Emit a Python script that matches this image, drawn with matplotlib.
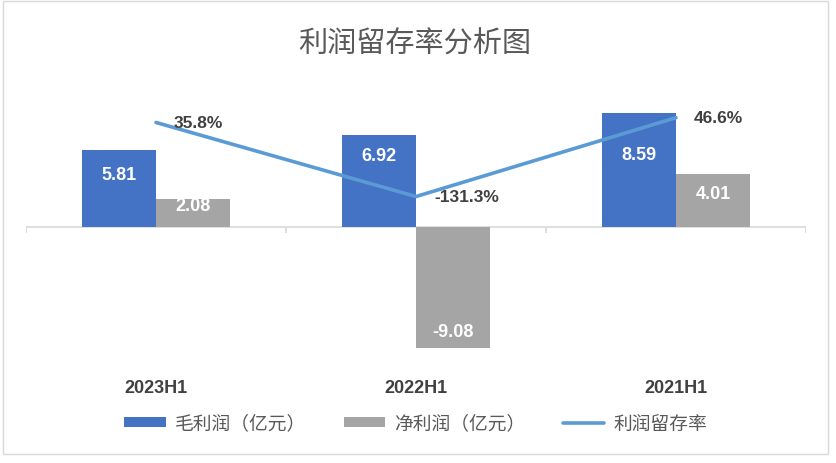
import matplotlib.pyplot as plt
from matplotlib.patches import Rectangle

plt.rcParams['font.family'] = ['Noto Sans CJK SC', 'DejaVu Sans']

categories = ["2023H1", "2022H1", "2021H1"]
gross = [5.81, 6.92, 8.59]
net = [2.08, -9.08, 4.01]
retention = [35.8, -131.3, 46.6]

blue = "#4472C4"
grey = "#A5A5A5"
lineBlue = "#5B9BD5"
textGrey = "#595959"
darkText = "#404040"
numFont = ['Liberation Sans', 'DejaVu Sans']

fig = plt.figure(figsize=(8.36, 4.64), dpi=100)
ax = fig.add_axes([26/836, 1-361/464, 780/836, 266/464])
ax2 = ax.twinx()

x = list(range(len(categories)))
w = 0.285
b1 = ax.bar([i - w/2 for i in x], gross, width=w, color=blue, zorder=2)
b2 = ax.bar([i + w/2 for i in x], net, width=w, color=grey, zorder=2)

ax.set_xlim(-0.5, 2.5)
ax.set_ylim(-10, 10)
ax2.set_ylim(-500, 100)

# zero line and category separators
ax.axhline(0, color="#D9D9D9", lw=1.2, zorder=1)
ax.vlines([-0.5, 0.5, 1.5, 2.5], -0.45, 0, color="#D9D9D9", lw=1.2, zorder=1)

# bar value labels (offset in px from bar end, inside)
grossOff = [25, 21, 42]
netOff = [6, 16, 20]
for rects, vals, offs in ((b1, gross, grossOff), (b2, net, netOff)):
  for r, v, o in zip(rects, vals, offs):
    sign = -1 if v >= 0 else 1
    ax.annotate(f"{v:.2f}", xy=(r.get_x() + r.get_width()/2, v),
      xytext=(0, sign*o*0.72), textcoords="offset points",
      ha="center", va="center", color="white", fontsize=13,
      fontweight="bold", family=numFont, zorder=4)

ax2.plot(x, retention, color=lineBlue, lw=2.6, solid_capstyle="round",
  solid_joinstyle="round", zorder=3)
for i, v in zip(x, retention):
  ax2.annotate(f"{v:.1f}%", xy=(i, v), xytext=(13, 0), textcoords="offset points",
    ha="left", va="center", color=darkText, fontsize=12.5, fontweight="bold",
    family=numFont)

for a in (ax, ax2):
  for s in a.spines.values():
    s.set_visible(False)
  a.set_yticks([])
ax2.set_xticks([])
ax.set_xticks(x)
ax.set_xticklabels(categories, fontsize=13, fontweight="bold", color=darkText,
  family=numFont)
ax.tick_params(axis="x", length=0, pad=14)
ax.set_zorder(ax2.get_zorder() - 1)
ax.patch.set_visible(False)

fig.text(415/836, 1-45/464, "利润留存率分析图", ha="center", va="center",
  fontsize=21, color=textGrey)

handles = [b1, b2, ax2.get_lines()[0]]
labels = ["毛利润（亿元）", "净利润（亿元）", "利润留存率"]
fig.legend(handles, labels, loc="center", bbox_to_anchor=(416/836, 1-424/464),
  ncol=3, frameon=False, fontsize=13.5, labelcolor=textGrey,
  handlelength=2.2, handleheight=0.5, handletextpad=0.5, columnspacing=2.0)

fig.patches.append(Rectangle((3/836, 1-455/464), 825/836, 453/464,
  transform=fig.transFigure, fill=False, edgecolor="#D9D9D9", lw=1))

plt.savefig("out.png", dpi=100)
